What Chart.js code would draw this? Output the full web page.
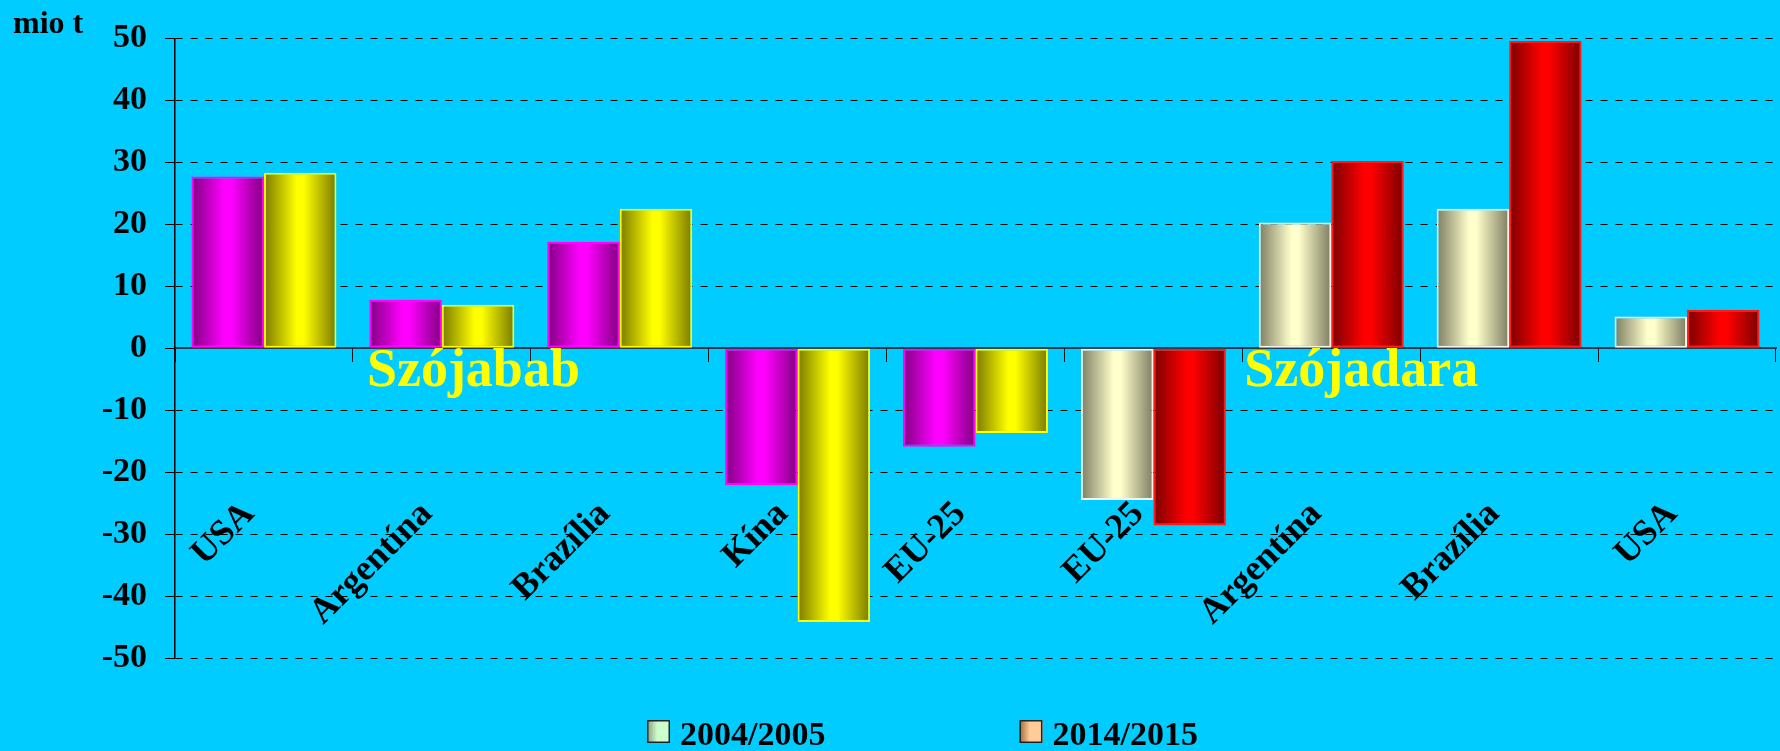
<!DOCTYPE html>
<html><head><meta charset="utf-8">
<script src="https://cdn.jsdelivr.net/npm/chart.js@4.4.1/dist/chart.umd.min.js"></script>
<style>html,body{margin:0;padding:0;background:#00CCFF;overflow:hidden}canvas{display:block}</style>
</head><body><canvas id="c" width="1780" height="751"></canvas>
<script>
// ---- data ----
const categories = ['USA','Argentína','Brazília','Kína','EU-25','EU-25','Argentína','Brazília','USA'];
const seriesNames = ['2004/2005','2014/2015'];
const values2004 = [27.7, 7.8, 17.2, -22.1, -15.9, -24.5, 20.3, 22.5, 5.1];
const values2014 = [28.3, 7.0, 22.5, -44.2, -13.7, -28.6, 30.2, 49.6, 6.2];
const productOf = ['Szójabab','Szójabab','Szójabab','Szójabab','Szójabab','Szójadara','Szójadara','Szójadara','Szójadara'];
const groupLabels = ['Szójabab','Szójadara'];
const yTickValues = [-50,-40,-30,-20,-10,0,10,20,30,40,50];
const unitLabel = 'mio t';

// ---- styles ----
const SERIF = '"Liberation Serif","Times New Roman",serif';
const PALETTE = {
  'Szójabab':  [{dark:'#800080', light:'#ff00ff', border:'#ff00ff'}, {dark:'#7a7a00', light:'#ffff00', border:'#ffff00'}],
  'Szójadara': [{dark:'#7d7d62', light:'#ffffcc', border:'#f4f4ea'}, {dark:'#7a0000', light:'#ff0000', border:'#ff1a1a'}]
};
const LEGEND_COLORS = [{dark:'#8a9a7a', light:'#ccffcc'}, {dark:'#9a6a3a', light:'#ffcc99'}];
const CAT_PCT = 0.815;
const GROUP_POS = [{at:0.5, dx:14}, {at:5.5, dx:2}];

function pal(c){ return PALETTE[productOf[c.dataIndex]][c.datasetIndex]; }
function barFill(c){
  if (c.type !== 'data') return '#888';
  const p = pal(c);
  const ch = c.chart, xs = ch.scales.x;
  if (!xs || !ch.chartArea) return p.light;
  const cw = xs.width / categories.length;
  const pw = cw * CAT_PCT;
  const cx = xs.getPixelForValue(c.dataIndex);
  const x0 = c.datasetIndex === 0 ? cx - pw/2 : cx;
  const g = ch.ctx.createLinearGradient(x0, 0, x0 + pw/2, 0);
  g.addColorStop(0, p.dark);
  g.addColorStop(0.45, p.light);
  g.addColorStop(0.55, p.light);
  g.addColorStop(1, p.dark);
  return g;
}
function barBorder(c){ return c.type === 'data' ? pal(c).border : '#000'; }

const overlay = {
  id: 'overlay',
  afterDatasetsDraw(chart){
    const {ctx, scales:{x, y}} = chart;
    ctx.save();
    ctx.textAlign = 'left';
    ctx.textBaseline = 'alphabetic';
    ctx.fillStyle = '#FFFF00';
    ctx.font = 'bold 54px ' + SERIF;
    const zero = y.getPixelForValue(0);
    groupLabels.forEach((g, i) => {
      ctx.fillText(g, x.getPixelForValue(GROUP_POS[i].at) + GROUP_POS[i].dx, zero + 38);
    });
    ctx.restore();
  },
  afterDraw(chart){
    const ctx = chart.ctx;
    ctx.save();
    ctx.textAlign = 'left';
    ctx.textBaseline = 'alphabetic';
    ctx.fillStyle = '#000';
    ctx.font = 'bold 32px ' + SERIF;
    ctx.fillText(unitLabel, 13, 33);
    // legend
    ctx.font = 'bold 34px ' + SERIF;
    let lx = 647;
    const ly = 720, bs = 23;
    seriesNames.forEach((name, i) => {
      const c = LEGEND_COLORS[i];
      const g = ctx.createLinearGradient(lx, 0, lx + bs, 0);
      g.addColorStop(0, c.dark); g.addColorStop(0.45, c.light); g.addColorStop(1, c.light);
      ctx.fillStyle = g;
      ctx.fillRect(lx, ly, bs, bs);
      ctx.strokeStyle = '#222'; ctx.lineWidth = 1.5;
      ctx.strokeRect(lx + 0.75, ly + 0.75, bs - 1.5, bs - 1.5);
      ctx.fillStyle = '#000';
      ctx.fillText(name, lx + 33, 745);
      lx += 33 + ctx.measureText(name).width + 194;
    });
    ctx.restore();
  }
};

new Chart(document.getElementById('c'), {
  type: 'bar',
  data: {
    labels: categories,
    datasets: [
      {label: seriesNames[0], data: values2004, backgroundColor: barFill, borderColor: barBorder, borderWidth: 2, borderSkipped: false, categoryPercentage: CAT_PCT, barPercentage: 1},
      {label: seriesNames[1], data: values2014, backgroundColor: barFill, borderColor: barBorder, borderWidth: 2, borderSkipped: false, categoryPercentage: CAT_PCT, barPercentage: 1}
    ]
  },
  options: {
    responsive: false,
    animation: false,
    devicePixelRatio: 1,
    layout: {padding: {left: 0, right: 4, top: 34, bottom: 93}},
    plugins: {legend: {display: false}, tooltip: {enabled: false}},
    scales: {
      x: {
        type: 'category',
        position: {y: 0},
        offset: true,
        afterFit(s){ s.paddingLeft = 0; s.paddingRight = 0; },
        grid: {offset: true, drawOnChartArea: false, drawTicks: true, tickLength: 13, color: '#111', lineWidth: 1},
        border: {display: true, color: '#2a3a4a', width: 2},
        ticks: {
          color: '#000', font: {family: SERIF, size: 36, weight: 'bold'},
          minRotation: 45, maxRotation: 45, autoSkip: false, padding: 132, labelOffset: -15
        }
      },
      y: {
        min: -50, max: 50,
        afterFit(s){ s.width = 175; },
        afterBuildTicks(s){ s.ticks = yTickValues.map(v => ({value: v})); },
        grid: {color: '#000', lineWidth: 1, tickLength: 10, tickColor: '#000', tickBorderDash: []},
        border: {display: true, color: '#000', width: 1.5, dash: [7, 8]},
        ticks: {color: '#000', font: {family: SERIF, size: 34, weight: 'bold'}, padding: 18}
      }
    }
  },
  plugins: [overlay]
});
</script>
</body></html>
